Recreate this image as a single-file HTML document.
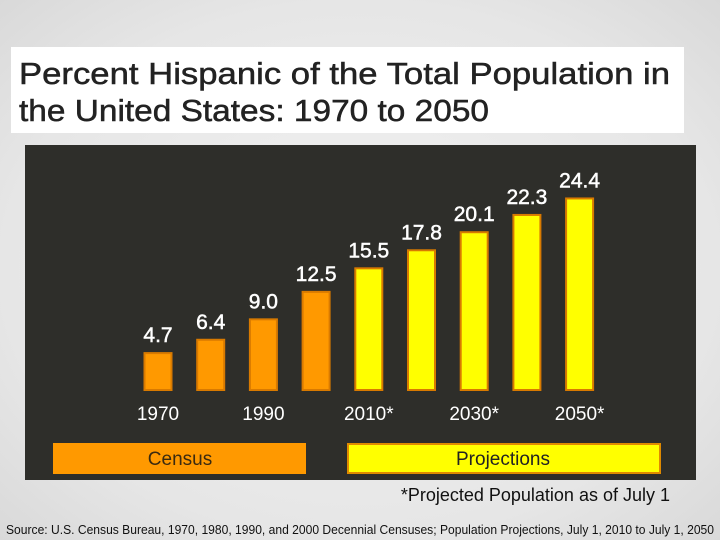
<!DOCTYPE html>
<html><head><meta charset="utf-8"><style>
body{margin:0;width:720px;height:540px;overflow:hidden;background:radial-gradient(ellipse at center,#f2f2f2 0%,#e6e6e6 70%,#d9d9d9 100%);font-family:"Liberation Sans Narrow","Liberation Sans",sans-serif;position:relative}
#title{position:absolute;left:11px;top:47px;width:673px;height:86px;background:#fff}
</style></head><body>
<div id="title"></div>
<svg width="720" height="540" style="position:absolute;left:0;top:0" id="chart" font-family="Liberation Sans Narrow, Liberation Sans, sans-serif">
<text x="19" y="84" font-size="31" fill="#222" stroke="#222" stroke-width="0.5" textLength="651" lengthAdjust="spacingAndGlyphs">Percent Hispanic of the Total Population in</text>
<text x="19" y="121" font-size="31" fill="#222" stroke="#222" stroke-width="0.5" textLength="470" lengthAdjust="spacingAndGlyphs">the United States: 1970 to 2050</text>
<rect x="25" y="145" width="671" height="335" fill="#2e2e2a"/>
<rect x="53" y="443" width="253" height="31" fill="#ff9900"/>
<text x="180" y="465" text-anchor="middle" font-size="19" fill="#3a2a10">Census</text>
<rect x="348" y="444" width="312" height="29" fill="#ffff00" stroke="#e08a00" stroke-width="2"/>
<text x="503" y="465" text-anchor="middle" font-size="19" fill="#222">Projections</text>
<text x="670" y="501" text-anchor="end" font-size="18" fill="#111">*Projected Population as of July 1</text>
<text x="360" y="534" text-anchor="middle" font-size="12.5" fill="#111" textLength="708" lengthAdjust="spacingAndGlyphs">Source: U.S. Census Bureau, 1970, 1980, 1990, and 2000 Decennial Censuses; Population Projections, July 1, 2010 to July 1, 2050</text>
<g id="bars"></g>
</svg>
<script>
const years=["1970","1980","1990","2000","2010*","2020*","2030*","2040*","2050*"];
const values=[4.7,6.4,9.0,12.5,15.5,17.8,20.1,22.3,24.4];
const labels=["4.7","6.4","9.0","12.5","15.5","17.8","20.1","22.3","24.4"];
const projected=[false,false,false,false,true,true,true,true,true];
const tickYears=["1970","1990","2010*","2030*","2050*"];
const NS="http://www.w3.org/2000/svg";
const g=document.getElementById('bars');
const x0=158,step=52.7,base=390,scale=7.85,bw=27;
function xs(i){return x0+i*step;}
function ys(v){return base-v*scale;}
function mk(t,a){const e=document.createElementNS(NS,t);for(const k in a)e.setAttribute(k,a[k]);g.appendChild(e);return e;}
values.forEach((v,i)=>{
const r=mk('rect',{x:xs(i)-bw/2,y:ys(v),width:bw,height:base-ys(v),fill:projected[i]?'#ffff00':'#ff9900',stroke:'#d97a00','stroke-width':2});


const t=mk('text',{x:xs(i),y:ys(v)-11,'text-anchor':'middle','font-size':21,fill:'#fff',stroke:'#fff','stroke-width':0.5});
t.textContent=labels[i];


if(tickYears.includes(years[i])){
const l=mk('text',{x:xs(i),y:420,'text-anchor':'middle','font-size':19,fill:'#fff'});
l.textContent=years[i];


}
});
</script>
</body></html>
